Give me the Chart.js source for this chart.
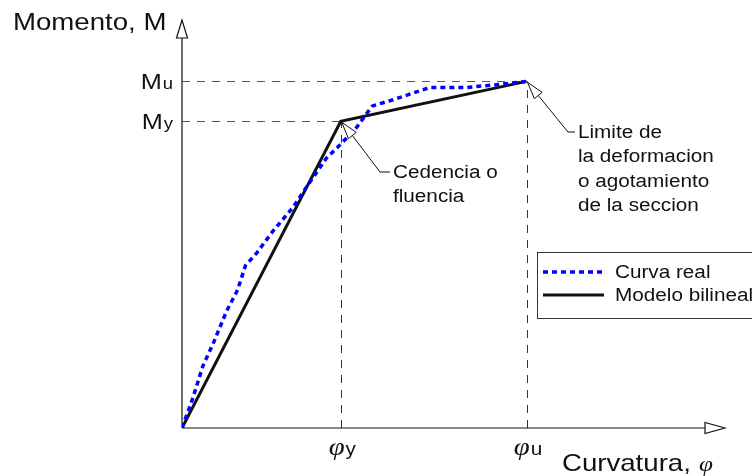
<!DOCTYPE html>
<html>
<head>
<meta charset="utf-8">
<script src="https://cdn.jsdelivr.net/npm/chart.js@4"></script>
<style>
  html, body { margin: 0; padding: 0; background: #fff; }
  canvas { display: block; }
</style>
</head>
<body>
<canvas id="mc" width="752" height="476"></canvas>
<script>
// curvature in units of phi_y, moment in units of M_y
const curvaRealX = [0, 0.07, 0.13, 0.2, 0.28, 0.35, 0.4, 0.47, 0.57, 0.7, 0.79, 0.91, 0.99, 1.1, 1.17, 1.2, 1.33, 1.56, 1.79, 2.0, 2.17];
const curvaRealY = [0, 0.1, 0.2, 0.28, 0.38, 0.45, 0.53, 0.57, 0.64, 0.72, 0.79, 0.88, 0.92, 0.98, 1.03, 1.05, 1.07, 1.11, 1.11, 1.12, 1.13];
const bilinealX = [0, 1.0, 2.17];
const bilinealY = [0, 1.0, 1.13];

const phiY = 1.0, phiU = 2.17;
const momY = 1.0, momU = 1.13;
const xMax = 3.42, yMax = 1.33;

const seriesNames = ['Curva real', 'Modelo bilineal'];
const xTickNames = [['φ', 'y'], ['φ', 'u']];
const yTickNames = [['M', 'y'], ['M', 'u']];
const noteYield = ['Cedencia o', 'fluencia'];
const noteUlt = ['Limite de', 'la deformacion', 'o agotamiento', 'de la seccion'];

const SANS = '"Liberation Sans", Arial, sans-serif';
const SERIF = '"Liberation Serif", "DejaVu Serif", serif';
const SX = 1.15; // the original lettering is a bit wide

function toPoints(xs, ys) {
  return xs.map((x, i) => ({ x, y: ys[i] }));
}

function wideText(ctx, s, x, y) {
  ctx.save();
  ctx.translate(x, y);
  ctx.scale(SX, 1);
  ctx.fillText(s, 0, 0);
  ctx.restore();
  return ctx.measureText(s).width * SX;
}

function openArrow(ctx, tipX, tipY, dx, dy, len, half) {
  const n = Math.hypot(dx, dy);
  const ux = dx / n, uy = dy / n;
  const bx = tipX + ux * len, by = tipY + uy * len;
  ctx.beginPath();
  ctx.moveTo(tipX, tipY);
  ctx.lineTo(bx - uy * half, by + ux * half);
  ctx.lineTo(bx + uy * half, by - ux * half);
  ctx.closePath();
  ctx.fillStyle = '#fff';
  ctx.fill();
  ctx.stroke();
  ctx.fillStyle = '#111';
  return { x: bx, y: by };
}

function subText(ctx, x, y, main, sub, mainFont, subFont, align) {
  ctx.font = mainFont;
  const w1 = ctx.measureText(main).width * SX;
  ctx.font = subFont;
  const w2 = ctx.measureText(sub).width * SX;
  let left = x;
  if (align === 'right') left = x - w1 - w2;
  if (align === 'center') left = x - (w1 + w2) / 2;
  ctx.textAlign = 'left';
  ctx.textBaseline = 'alphabetic';
  ctx.font = mainFont;
  wideText(ctx, main, left, y);
  ctx.font = subFont;
  wideText(ctx, sub, left + w1 + 1, y);
}

const guides = {
  id: 'guides',
  beforeDatasetsDraw(chart) {
    const { ctx, scales: { x, y } } = chart;
    const x0 = x.getPixelForValue(0), y0 = y.getPixelForValue(0);
    ctx.save();
    ctx.lineWidth = 1;
    ctx.setLineDash([8, 7]);
    ctx.strokeStyle = '#555';
    [momY, momU].forEach((m, i) => {
      const py = Math.round(y.getPixelForValue(m)) + 0.5;
      const px = x.getPixelForValue([phiY, phiU][i]);
      ctx.beginPath();
      ctx.moveTo(x0, py);
      ctx.lineTo(px, py);
      ctx.stroke();
    });
    ctx.strokeStyle = '#333';
    [phiY, phiU].forEach((p, i) => {
      const px = Math.round(x.getPixelForValue(p)) + 0.5;
      const py = y.getPixelForValue([momY, momU][i]);
      ctx.beginPath();
      ctx.moveTo(px, y0);
      ctx.lineTo(px, py);
      ctx.stroke();
    });
    ctx.setLineDash([]);

    // axes with open arrow heads
    ctx.strokeStyle = '#111';
    ctx.lineWidth = 1.2;
    const top = y.getPixelForValue(yMax), right = x.getPixelForValue(xMax);
    ctx.beginPath();
    ctx.moveTo(x0, y0);
    ctx.lineTo(x0, top + 18);
    ctx.moveTo(x0, y0);
    ctx.lineTo(right - 20, y0);
    ctx.stroke();
    openArrow(ctx, x0, top, 0, 1, 18, 5.5);
    openArrow(ctx, right, y0, -1, 0, 20, 5.5);

    // tick names
    ctx.fillStyle = '#111';
    [momY, momU].forEach((m, i) => {
      subText(ctx, x0 - 10, y.getPixelForValue(m) + 8, yTickNames[i][0], yTickNames[i][1],
        '22px ' + SANS, '16px ' + SANS, 'right');
    });
    [phiY, phiU].forEach((p, i) => {
      subText(ctx, x.getPixelForValue(p) + 1, y0 + 27, xTickNames[i][0], xTickNames[i][1],
        'italic 25px ' + SERIF, '18px ' + SANS, 'center');
    });

    // axis titles
    ctx.font = '24px ' + SANS;
    ctx.textAlign = 'left';
    ctx.textBaseline = 'alphabetic';
    wideText(ctx, 'Momento, M', 13, 30);
    wideText(ctx, 'Curvatura,', 562, 471);
    ctx.font = 'italic 22px ' + SERIF;
    wideText(ctx, 'φ', 699, 471);
    ctx.restore();
  },
  afterDatasetsDraw(chart) {
    const { ctx, scales: { x, y } } = chart;
    ctx.save();
    ctx.strokeStyle = '#111';
    ctx.lineWidth = 1;
    ctx.font = '18px ' + SANS;
    ctx.textAlign = 'left';
    ctx.textBaseline = 'middle';

    // yield note
    let tx = x.getPixelForValue(phiY), ty = y.getPixelForValue(momY);
    let b = openArrow(ctx, tx + 1, ty + 1, 39, 49, 17, 5);
    ctx.beginPath();
    ctx.moveTo(b.x, b.y);
    ctx.lineTo(380, 172);
    ctx.lineTo(390, 172);
    ctx.stroke();
    noteYield.forEach((s, i) => wideText(ctx, s, 393, 173 + i * 24));

    // ultimate note
    tx = x.getPixelForValue(phiU); ty = y.getPixelForValue(momU);
    b = openArrow(ctx, tx + 1, ty + 1, 40, 49, 17, 5);
    ctx.beginPath();
    ctx.moveTo(b.x, b.y);
    ctx.lineTo(568, 132);
    ctx.lineTo(575, 132);
    ctx.stroke();
    noteUlt.forEach((s, i) => wideText(ctx, s, 578, 133 + i * 24.5));

    // legend
    ctx.strokeStyle = '#333';
    ctx.strokeRect(537.5, 252.5, 230, 66);
    chart.data.datasets.forEach((ds, i) => {
      const ly = 272 + i * 23;
      ctx.strokeStyle = ds.borderColor;
      ctx.lineWidth = ds.borderWidth;
      ctx.setLineDash(ds.borderDash || []);
      ctx.beginPath();
      ctx.moveTo(543, ly);
      ctx.lineTo(604, ly);
      ctx.stroke();
      ctx.setLineDash([]);
      ctx.fillStyle = '#111';
      wideText(ctx, seriesNames[i], 615, ly + 1);
    });
    ctx.restore();
  }
};

new Chart(document.getElementById('mc'), {
  type: 'scatter',
  data: {
    datasets: [
      {
        label: seriesNames[0],
        data: toPoints(curvaRealX, curvaRealY),
        showLine: true,
        borderColor: '#0000ff',
        borderWidth: 3.5,
        borderDash: [5, 4],
        pointRadius: 0,
        tension: 0
      },
      {
        label: seriesNames[1],
        data: toPoints(bilinealX, bilinealY),
        showLine: true,
        borderColor: '#111',
        borderWidth: 3,
        pointRadius: 0
      }
    ]
  },
  options: {
    responsive: false,
    animation: false,
    layout: { padding: { left: 182, top: 20, right: 27, bottom: 48 } },
    plugins: { legend: { display: false }, tooltip: { enabled: false } },
    scales: {
      x: { type: 'linear', display: false, min: 0, max: xMax },
      y: { type: 'linear', display: false, min: 0, max: yMax }
    }
  },
  plugins: [guides]
});
</script>
</body>
</html>
